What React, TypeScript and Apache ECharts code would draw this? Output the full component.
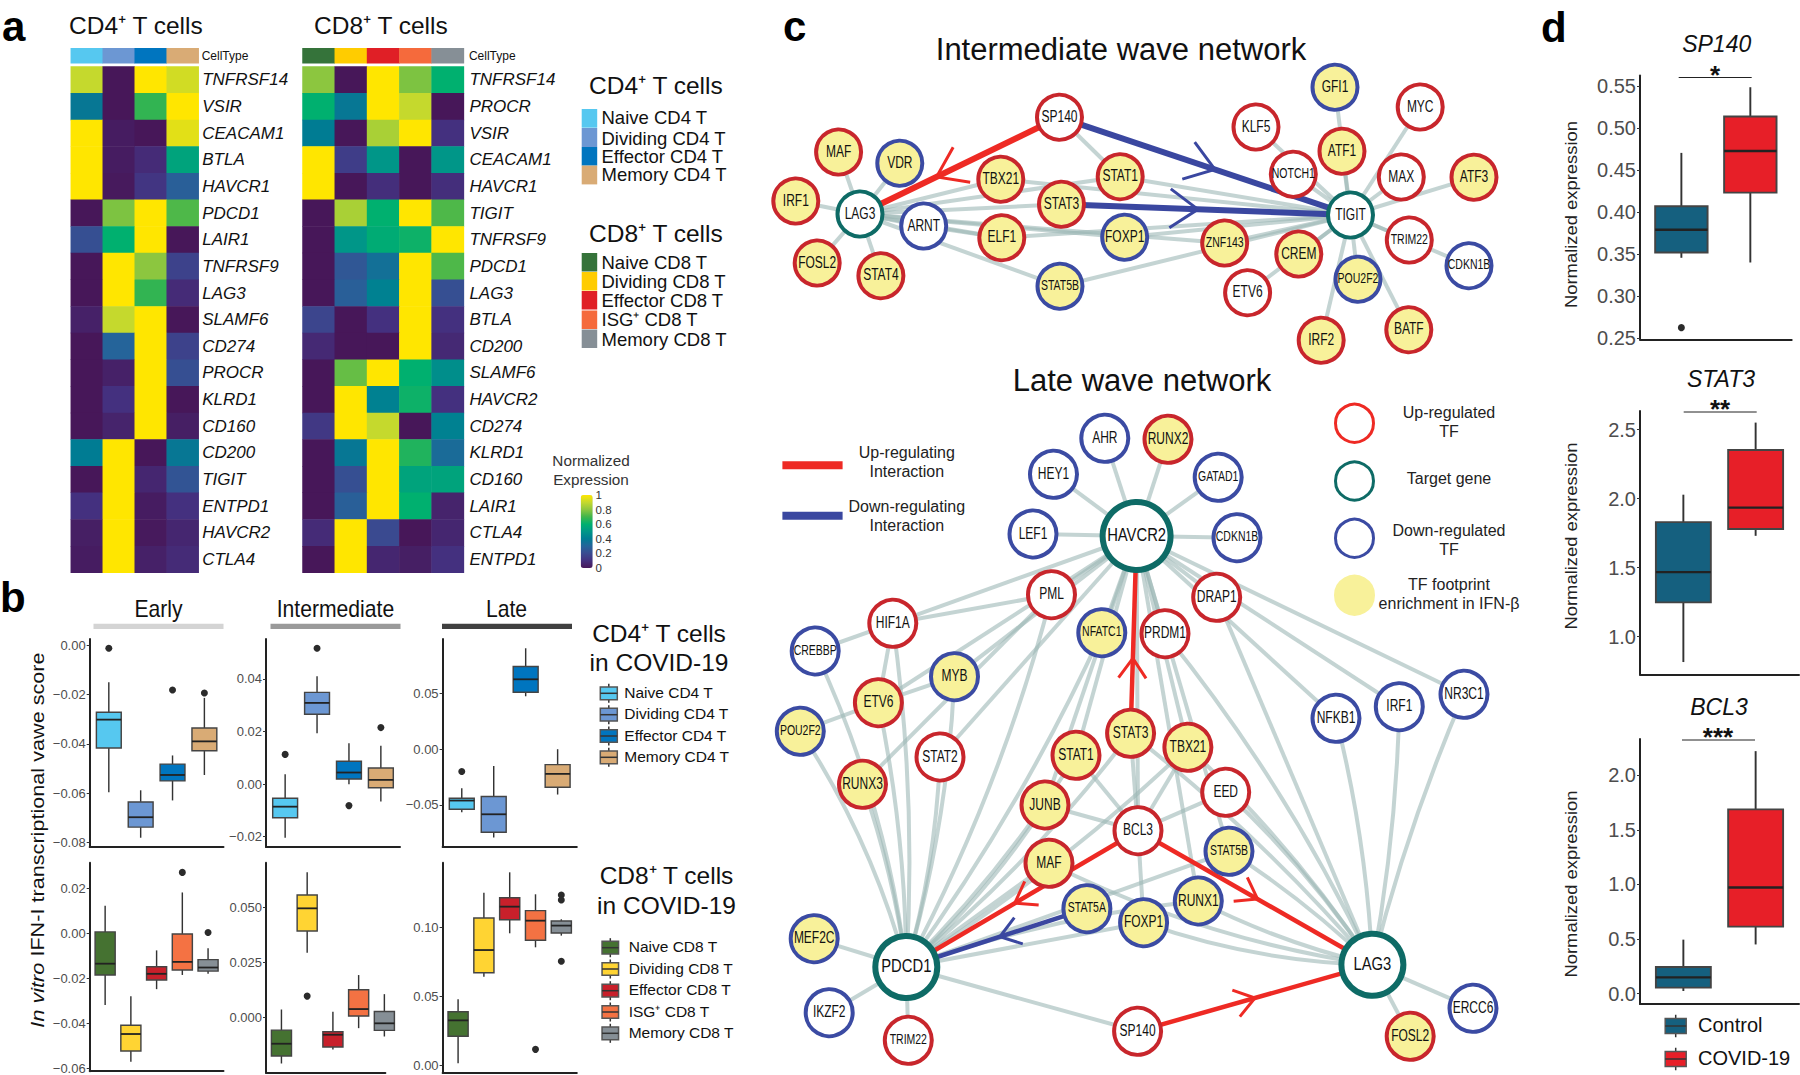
import React, { useEffect, useRef } from "react";
import * as echarts from "echarts";

const SANS = '"Liberation Sans", Arial, sans-serif';

// ---------- panel a ----------
const cd4Types = ["Naive CD4 T", "Dividing CD4 T", "Effector CD4 T", "Memory CD4 T"];
const cd8Types = ["Naive CD8 T", "Dividing CD8 T", "Effector CD8 T", "ISG⁺ CD8 T", "Memory CD8 T"];
const cd4BarColors = ["#56C8F0", "#6C97D3", "#0075BF", "#D9AB75"];
const cd8BarColors = ["#35733A", "#FFCC00", "#E01F26", "#F56A3C", "#868F96"];
const cd4Genes = ["TNFRSF14", "VSIR", "CEACAM1", "BTLA", "HAVCR1", "PDCD1", "LAIR1", "TNFRSF9", "LAG3", "SLAMF6", "CD274", "PROCR", "KLRD1", "CD160", "CD200", "TIGIT", "ENTPD1", "HAVCR2", "CTLA4"];
const cd4Matrix = [
  [0.9, 0, 1, 0.92], [0.38, 0, 0.68, 1], [1, 0.02, 0, 0.95], [1, 0.02, 0.08, 0.55], [1, 0.01, 0.12, 0.28],
  [0, 0.78, 1, 0.72], [0.22, 0.6, 1, 0], [0, 1, 0.8, 0.17], [0, 1, 0.68, 0.08], [0.04, 0.9, 1, 0],
  [0, 0.3, 1, 0.17], [0, 0.04, 1, 0.22], [0, 0.1, 1, 0], [0, 0.05, 1, 0.03], [0.4, 1, 0, 0.38],
  [0, 1, 0.06, 0.24], [0.1, 1, 0.02, 0.1], [0.03, 1, 0.01, 0.06], [0.02, 1, 0.04, 0.08],
];
const cd8Genes = ["TNFRSF14", "PROCR", "VSIR", "CEACAM1", "HAVCR1", "TIGIT", "TNFRSF9", "PDCD1", "LAG3", "BTLA", "CD200", "SLAMF6", "HAVCR2", "CD274", "KLRD1", "CD160", "LAIR1", "CTLA4", "ENTPD1"];
const cd8Matrix = [
  [0.8, 0, 1, 0.78, 0.6], [0.6, 0.38, 1, 0.9, 0], [0.4, 0, 0.85, 1, 0.1], [1, 0.15, 0.5, 0, 0.5], [1, 0, 0.09, 0, 0.09],
  [0, 0.85, 0.6, 1, 0.72], [0, 0.5, 0.58, 0.62, 1], [0, 0.25, 0.35, 1, 0.72], [0, 0.28, 0.42, 1, 0.22], [0.18, 0, 0.1, 1, 0.1],
  [0.07, 0, 0, 1, 0.07], [0, 0.75, 1, 0.6, 0.47], [0, 1, 0.42, 0.62, 0.1], [0.13, 1, 0.9, 0, 0.42], [0, 0.38, 1, 0.65, 0.33],
  [0, 0.22, 1, 0.55, 0.55], [0, 0.28, 1, 0.6, 0.05], [0.08, 1, 0.2, 0, 0.06], [0, 1, 0.06, 0.03, 0.1],
];
const heatRamp = ["#471759", "#44307F", "#3A4A90", "#25649A", "#007C93", "#009688", "#00B06F", "#3FB54B", "#8CC63F", "#C5D92D", "#FFE600"];

// ---------- panel b: [low whisker, q1, median, q3, high whisker] ----------
const cd4BoxColors = ["#56C8F0", "#6C97D3", "#0075BF", "#D9AB75"];
const cd8BoxColors = ["#457231", "#FFD433", "#C8202B", "#F47243", "#868F96"];
const earlyCD4 = [[-0.0596, -0.0417, -0.0302, -0.02725, -0.0151], [-0.078, -0.0737, -0.0697, -0.0635, -0.0588], [-0.0629, -0.055, -0.0526, -0.0482, -0.0447], [-0.0526, -0.0428, -0.039, -0.0336, -0.0214]];
const earlyCD4Out = [[1, -0.0013], [3, -0.0182], [4, -0.0194]];
const interCD4 = [[-0.0204, -0.0128, -0.0086, -0.0054, 0.0037], [0.0193, 0.0266, 0.0309, 0.0349, 0.041], [-0.0001, 0.0019, 0.0044, 0.0087, 0.0155], [-0.0066, -0.0014, 0.0016, 0.0061, 0.0146]];
const interCD4Out = [[1, 0.0113], [2, 0.0517], [3, -0.0082], [4, 0.0215]];
const lateCD4 = [[-0.0566, -0.0539, -0.0461, -0.044, -0.0351], [-0.0793, -0.0745, -0.0584, -0.0425, -0.0151], [0.0473, 0.0509, 0.0625, 0.0739, 0.0903], [-0.0407, -0.0342, -0.0222, -0.0139, -0.0001]];
const lateCD4Out = [[1, -0.0201]];
const earlyCD8 = [[-0.0318, -0.0185, -0.0135, 0.0006, 0.0122], [-0.057, -0.0522, -0.0447, -0.0408, -0.028], [-0.0248, -0.0207, -0.018, -0.0149, -0.0076], [-0.0185, -0.0163, -0.0127, -0.0003, 0.0181], [-0.018, -0.0168, -0.0152, -0.0117, -0.0067]];
const earlyCD8Out = [[4, 0.027], [5, 0.0003]];
const interCD8 = [[-0.021, -0.0176, -0.012, -0.0058, 0.0036], [0.0295, 0.0394, 0.0497, 0.0558, 0.0661], [-0.0146, -0.0135, -0.0079, -0.0065, 0.0026], [-0.0049, 0.0006, 0.0038, 0.0126, 0.0193], [-0.0087, -0.0059, -0.0027, 0.0027, 0.0106]];
const interCD8Out = [[2, 0.0097]];
const lateCD8 = [[0.0012, 0.0209, 0.0325, 0.0388, 0.0478], [0.0643, 0.0672, 0.0837, 0.107, 0.1255], [0.0959, 0.1058, 0.1153, 0.1218, 0.1403], [0.0857, 0.0908, 0.1051, 0.1124, 0.1243], [0.0942, 0.0961, 0.1015, 0.1049, 0.1061]];
const lateCD8Out = [[4, 0.0114], [5, 0.1238], [5, 0.1201], [5, 0.0755]];

// ---------- panel d ----------
const groupColors = ["#15607F", "#E71F28"];
const groupNames = ["Control", "COVID-19"];
const sp140Box = [[0.3456, 0.352, 0.379, 0.407, 0.4707], [0.34, 0.4233, 0.473, 0.514, 0.549]];
const sp140Out = [[1, 0.2623]];
const stat3Box = [[0.816, 1.248, 1.467, 1.829, 2.028], [1.73, 1.78, 1.934, 2.351, 2.55]];
const bcl3Box = [[0.025, 0.056, 0.15, 0.2445, 0.495], [0.451, 0.614, 0.972, 1.687, 2.22]];

// ---------- panel c ----------
type Ring = "up" | "down" | "target";
const intermediateNodes: [string, Ring, boolean][] = [
  ["SP140", "up", false], ["MAF", "up", true], ["VDR", "down", true], ["IRF1", "up", true], ["LAG3", "target", false],
  ["TBX21", "up", true], ["STAT1", "up", true], ["STAT3", "up", true], ["ARNT", "down", false], ["ELF1", "up", true],
  ["FOXP1", "down", true], ["FOSL2", "up", true], ["STAT4", "up", true], ["STAT5B", "down", true], ["ZNF143", "up", true],
  ["CREM", "up", true], ["ETV6", "up", false], ["KLF5", "up", false], ["NOTCH1", "up", false], ["ATF1", "up", true],
  ["GFI1", "down", true], ["MYC", "up", false], ["MAX", "up", false], ["ATF3", "up", true], ["TIGIT", "target", false],
  ["TRIM22", "up", false], ["CDKN1B", "down", false], ["POU2F2", "down", true], ["IRF2", "up", true], ["BATF", "up", true],
];
const intermediateLayout: Record<string, [number, number]> = {
  SP140: [1059.5, 117.3], MAF: [838.6, 152], VDR: [899.8, 163.3], IRF1: [795.8, 201], LAG3: [860, 214], TBX21: [1000.8, 179.3],
  STAT1: [1120.2, 176.7], STAT3: [1061.5, 204.3], ARNT: [923.7, 226], ELF1: [1001.8, 237.7], FOXP1: [1124.7, 237.3], FOSL2: [817.2, 263],
  STAT4: [880.9, 275.7], STAT5B: [1060, 286.3], ZNF143: [1224.7, 243], CREM: [1298.8, 254], ETV6: [1247.6, 292.7], KLF5: [1256, 127],
  NOTCH1: [1293.3, 174.3], ATF1: [1342, 151.3], GFI1: [1335, 87.3], MYC: [1420.2, 107], MAX: [1401.3, 177], ATF3: [1474, 177.3],
  TIGIT: [1350.5, 215], TRIM22: [1409.3, 240], CDKN1B: [1469, 265.7], POU2F2: [1358, 279.3], IRF2: [1321.2, 340.3], BATF: [1408.8, 329.7],
};
const intermediateEdges: [string, string][] = [
  ["LAG3", "MAF"], ["LAG3", "VDR"], ["LAG3", "IRF1"], ["LAG3", "FOSL2"], ["LAG3", "STAT4"], ["LAG3", "TBX21"], ["LAG3", "STAT1"],
  ["LAG3", "STAT3"], ["LAG3", "ARNT"], ["LAG3", "ELF1"], ["LAG3", "FOXP1"], ["LAG3", "ZNF143"], ["LAG3", "STAT5B"],
  ["SP140", "STAT1"], ["TIGIT", "TBX21"], ["TIGIT", "STAT1"], ["TIGIT", "ELF1"], ["TIGIT", "FOXP1"], ["TIGIT", "ZNF143"], ["TIGIT", "CREM"],
  ["TIGIT", "NOTCH1"], ["TIGIT", "ATF1"], ["TIGIT", "MAX"], ["TIGIT", "ATF3"], ["TIGIT", "TRIM22"], ["TIGIT", "POU2F2"], ["TIGIT", "IRF2"],
  ["TIGIT", "BATF"], ["TIGIT", "STAT5B"], ["TIGIT", "ETV6"], ["TIGIT", "KLF5"], ["TIGIT", "GFI1"], ["TIGIT", "MYC"], ["TIGIT", "CDKN1B"], ["ARNT", "ELF1"],
];
const intermediateUp: [string, string, number][] = [["SP140", "LAG3", 0.616]];
const intermediateDown: [string, string, number][] = [["SP140", "TIGIT", 0.534], ["STAT3", "TIGIT", 0.472]];

const lateNodes: [string, Ring, boolean][] = [
  ["HAVCR2", "target", false], ["AHR", "down", false], ["RUNX2", "up", true], ["HEY1", "down", false], ["GATAD1", "down", false],
  ["LEF1", "down", false], ["CDKN1B", "down", false], ["PML", "up", false], ["DRAP1", "up", false], ["NFATC1", "down", true],
  ["PRDM1", "up", false], ["HIF1A", "up", false], ["CREBBP", "down", false], ["MYB", "down", true], ["ETV6", "up", true],
  ["NR3C1", "down", false], ["IRF1", "down", false], ["NFKB1", "down", false], ["POU2F2", "down", true], ["STAT2", "up", false],
  ["RUNX3", "up", true], ["STAT3", "up", true], ["TBX21", "up", true], ["STAT1", "up", true], ["EED", "up", false],
  ["JUNB", "up", true], ["BCL3", "up", false], ["MAF", "up", true], ["STAT5B", "down", true], ["STAT5A", "down", true],
  ["FOXP1", "down", true], ["RUNX1", "down", true], ["MEF2C", "down", true], ["PDCD1", "target", false], ["IKZF2", "down", false],
  ["TRIM22", "up", false], ["SP140", "up", false], ["LAG3", "target", false], ["FOSL2", "up", true], ["ERCC6", "down", false],
];
const lateLayout: Record<string, [number, number]> = {
  HAVCR2: [1136.6, 536], AHR: [1104.8, 438.3], RUNX2: [1168, 439.3], HEY1: [1053.5, 474.3], GATAD1: [1218.2, 477.3], LEF1: [1033, 534],
  CDKN1B: [1237, 537.7], PML: [1051.5, 594.7], DRAP1: [1216.7, 597.3], NFATC1: [1101.8, 632.7], PRDM1: [1165, 633.7], HIF1A: [892.8, 623.3],
  CREBBP: [815.2, 651], MYB: [954.5, 676.7], ETV6: [878.4, 702.7], NR3C1: [1464, 694.3], IRF1: [1399.3, 706.7], NFKB1: [1336, 718.3],
  POU2F2: [800.3, 731.3], STAT2: [940, 757], RUNX3: [862.5, 784.3], STAT3: [1130.6, 733.3], TBX21: [1187.9, 747.3], STAT1: [1076, 755.3],
  EED: [1225.7, 792.3], JUNB: [1045, 805], BCL3: [1138, 830.7], MAF: [1049, 863.3], STAT5B: [1229, 851.3], STAT5A: [1086.9, 908.7],
  FOXP1: [1143.6, 922.7], RUNX1: [1198.3, 901], MEF2C: [814.2, 938.7], PDCD1: [906.3, 967], IKZF2: [829.2, 1012.7], TRIM22: [908.3, 1040.3],
  SP140: [1137.6, 1031.3], LAG3: [1372.4, 964.7], FOSL2: [1410.2, 1036.3], ERCC6: [1473, 1008.3],
};
const lateEdges: [string, string][] = [
  ["HAVCR2", "AHR"], ["HAVCR2", "RUNX2"], ["HAVCR2", "HEY1"], ["HAVCR2", "GATAD1"], ["HAVCR2", "LEF1"], ["HAVCR2", "CDKN1B"],
  ["HAVCR2", "PML"], ["HAVCR2", "DRAP1"], ["HAVCR2", "NFATC1"], ["HAVCR2", "PRDM1"], ["HAVCR2", "HIF1A"], ["HAVCR2", "MYB"],
  ["HAVCR2", "ETV6"], ["HAVCR2", "STAT2"], ["HAVCR2", "STAT1"], ["HAVCR2", "TBX21"], ["HAVCR2", "BCL3"], ["HAVCR2", "STAT5B"],
  ["HAVCR2", "JUNB"], ["HAVCR2", "RUNX1"], ["HAVCR2", "NR3C1"], ["HAVCR2", "IRF1"], ["HAVCR2", "NFKB1"],
  ["PML", "HIF1A"], ["HIF1A", "CREBBP"], ["HIF1A", "ETV6"], ["ETV6", "POU2F2"], ["ETV6", "MYB"], ["PML", "RUNX3"],
  ["LAG3", "DRAP1"], ["BCL3", "JUNB"], ["BCL3", "EED"], ["BCL3", "TBX21"], ["BCL3", "STAT1"], ["BCL3", "FOXP1"], ["BCL3", "STAT3"],
  ["PDCD1", "MEF2C"], ["PDCD1", "IKZF2"], ["PDCD1", "TRIM22"], ["PDCD1", "SP140"], ["PDCD1", "MAF"], ["PDCD1", "FOXP1"], ["PDCD1", "STAT5B"],
  ["LAG3", "FOSL2"], ["LAG3", "ERCC6"],
];
const lateCurved: [string, string, number][] = [
  ["PDCD1", "RUNX3", -0.05], ["PDCD1", "ETV6", -0.05], ["PDCD1", "POU2F2", -0.08], ["PDCD1", "CREBBP", -0.08], ["PDCD1", "STAT2", -0.06],
  ["PDCD1", "MYB", -0.06], ["PDCD1", "PML", -0.06], ["PDCD1", "HIF1A", -0.05], ["PDCD1", "STAT1", -0.06], ["PDCD1", "STAT3", -0.06],
  ["PDCD1", "JUNB", -0.07], ["PDCD1", "TBX21", -0.05], ["PDCD1", "NFATC1", -0.05], ["PDCD1", "RUNX1", 0.06],
  ["LAG3", "NFKB1", -0.05], ["LAG3", "IRF1", -0.04], ["LAG3", "NR3C1", 0.04], ["LAG3", "EED", -0.06], ["LAG3", "TBX21", -0.06],
  ["LAG3", "MAF", 0.08], ["LAG3", "PRDM1", -0.06], ["LAG3", "STAT3", -0.05], ["LAG3", "FOXP1", 0.08], ["LAG3", "RUNX1", 0.06], ["LAG3", "STAT5B", -0.05],
];
const lateUp: [string, string, number][] = [["STAT3", "HAVCR2", 0.38], ["BCL3", "PDCD1", 0.532], ["BCL3", "LAG3", 0.51], ["SP140", "LAG3", 0.5]];
const lateDown: [string, string, number][] = [["STAT5A", "PDCD1", 0.482]];

const RED = "#EE2A24";
const BLUE = "#3A47A0";
const TEAL = "#0E6B66";
const RINGS: Record<Ring, string> = { up: "#C8262C", down: "#3B4BA3", target: TEAL };
const FOOTPRINT = "#F8F19A";

function text(x: number, y: number, str: string, size: number, o: any = {}) {
  const align = o.align || "left";
  const rotated = !!o.rotation;
  return {
    type: "text", x, y: rotated ? y : y - 0.8, rotation: o.rotation || 0, scaleX: o.sx || 1, silent: true, z: 50,
    style: {
      text: str, fontSize: size, fontFamily: SANS, fontStyle: o.italic ? "italic" : "normal",
      fontWeight: o.bold ? "bold" : "normal", fill: o.color || "#111", align, textAlign: align,
      verticalAlign: "middle", textVerticalAlign: "middle", rich: o.rich,
    },
  };
}
const rect = (x: number, y: number, w: number, h: number, fill: string, extra: any = {}) => ({
  type: "rect", shape: { x, y, width: w, height: h }, silent: true, z: 50, style: { fill, ...extra },
});
const line = (x1: number, y1: number, x2: number, y2: number, stroke: string, lineWidth: number) => ({
  type: "line", shape: { x1, y1, x2, y2 }, silent: true, z: 50, style: { stroke, lineWidth },
});
function boxKey(cx: number, cy: number, w: number, h: number, fill: string) {
  return [
    line(cx, cy - h * 0.75, cx, cy + h * 0.75, "#333", 1.5),
    rect(cx - w / 2, cy - h / 2, w, h, fill, { stroke: "#555", lineWidth: 1.5 }),
    line(cx - w / 2, cy, cx + w / 2, cy, "#333", 1.5),
  ];
}

export default function App() {
  const ref = useRef<HTMLDivElement>(null);
  useEffect(() => {
    const chart = echarts.init(ref.current!, null, { renderer: "svg" });
    const grid: any[] = [];
    const xAxis: any[] = [];
    const yAxis: any[] = [];
    const series: any[] = [];
    const graphic: any[] = [];

    const pushGrid = (l: number, t: number, w: number, h: number) => {
      grid.push({ left: l, top: t, width: w, height: h, containLabel: false });
      return grid.length - 1;
    };

    // heat maps
    const heat = (l: number, w: number, genes: string[], cols: string[], m: number[][], barColors: string[], margin: number) => {
      const g = pushGrid(l, 66.6, w, 506.2);
      xAxis.push({ gridIndex: g, type: "category", data: cols, show: false });
      yAxis.push({
        gridIndex: g, type: "category", data: genes, inverse: true, position: "right",
        axisLine: { show: false }, axisTick: { show: false },
        axisLabel: { interval: 0, fontSize: 17, fontStyle: "italic", fontFamily: SANS, color: "#111", margin, padding: [0, 0, 2, 0] },
      });
      const data: number[][] = [];
      m.forEach((row, r) => row.forEach((v, c) => data.push([c, r, v])));
      series.push({ type: "heatmap", xAxisIndex: xAxis.length - 1, yAxisIndex: yAxis.length - 1, data, silent: true });
      return { g, barColors, cols };
    };
    const h4 = heat(70.8, 127.9, cd4Genes, cd4Types, cd4Matrix, cd4BarColors, 3.5);
    const h8 = heat(302.5, 161.4, cd8Genes, cd8Types, cd8Matrix, cd8BarColors, 5.5);
    [h4, h8].forEach((h, i) => {
      const g = pushGrid(i === 0 ? 70.8 : 302.5, 48.2, i === 0 ? 127.9 : 161.4, 15);
      xAxis.push({ gridIndex: g, type: "category", data: h.cols, show: false });
      yAxis.push({
        gridIndex: g, type: "category", data: ["CellType"], position: "right",
        axisLine: { show: false }, axisTick: { show: false },
        axisLabel: { fontSize: 12, fontFamily: SANS, color: "#111", margin: i === 0 ? 3 : 5 },
      });
      series.push({
        type: "heatmap", xAxisIndex: xAxis.length - 1, yAxisIndex: yAxis.length - 1, silent: true,
        data: h.cols.map((_, c) => [c, 0, c]),
      });
    });

    // colour-bar axis
    const cb = pushGrid(592.6, 495, 1, 73);
    xAxis.push({ gridIndex: cb, type: "value", show: false, min: 0, max: 1 });
    yAxis.push({
      gridIndex: cb, type: "value", min: 0, max: 1, interval: 0.2, position: "right",
      axisLine: { show: false }, splitLine: { show: false },
      axisTick: { show: true, inside: true, length: 3, lineStyle: { color: "#fff", width: 1 } },
      axisLabel: { fontSize: 11.5, fontFamily: SANS, color: "#333", margin: 2 },
    });

    // box plots drawn through the axes' scales
    const boxSeries = (xi: number, yi: number, rows: number[][], colors: string[], out: number[][], wUnits: number, mw = 1.8) => {
      series.push({
        type: "custom", xAxisIndex: xi, yAxisIndex: yi, silent: true, clip: false,
        encode: { x: 0, y: [1, 2, 3, 4, 5] },
        data: rows.map((r, i) => [i + 1, ...r]),
        renderItem: (params: any, api: any) => {
          const x = api.value(0);
          const [px] = api.coord([x, 0]);
          const y = (v: number) => api.coord([x, v])[1];
          const low = y(api.value(1)), q1 = y(api.value(2)), med = y(api.value(3)), q3 = y(api.value(4)), up = y(api.value(5));
          const w = api.size([wUnits, 0])[0];
          const color = colors[params.dataIndex];
          const stroke = { stroke: "#333", lineWidth: mw * 0.8 };
          return {
            type: "group",
            children: [
              { type: "line", shape: { x1: px, y1: up, x2: px, y2: q3 }, style: stroke },
              { type: "line", shape: { x1: px, y1: q1, x2: px, y2: low }, style: stroke },
              { type: "rect", shape: { x: px - w / 2, y: q3, width: w, height: q1 - q3 }, style: { fill: color, stroke: "#444", lineWidth: mw * 0.8 } },
              { type: "line", shape: { x1: px - w / 2, y1: med, x2: px + w / 2, y2: med }, style: { stroke: "#222", lineWidth: mw } },
            ],
          };
        },
      });
      if (out.length) {
        series.push({
          type: "scatter", xAxisIndex: xi, yAxisIndex: yi, silent: true, clip: false,
          data: out, symbolSize: 7, itemStyle: { color: "#2b2b2b", opacity: 1 },
        });
      }
    };
    const panelAxes = (
      l: number, t: number, r: number, b: number, xMax: number, yMin: number, yMax: number,
      ticks: number[], dec: number, fs: number,
    ) => {
      const g = pushGrid(l, t, r - l, b - t);
      xAxis.push({
        gridIndex: g, type: "value", min: 0.4, max: xMax, position: "bottom",
        axisLine: { show: true, onZero: false, lineStyle: { color: "#222", width: 2 } },
        axisTick: { show: false }, axisLabel: { show: false }, splitLine: { show: false },
      });
      yAxis.push({
        gridIndex: g, type: "value", min: yMin, max: yMax, position: "left",
        axisLine: { show: true, onZero: false, lineStyle: { color: "#222", width: 2 } },
        axisTick: { show: true, length: 3, customValues: ticks, lineStyle: { color: "#333" } },
        axisLabel: {
          show: true, customValues: ticks, fontSize: fs, fontFamily: SANS, color: "#4d4d4d", margin: 4,
          formatter: (v: number) => (v < 0 ? "\u2212" : "") + Math.abs(v).toFixed(dec),
        },
        splitLine: { show: false },
      });
      return [xAxis.length - 1, yAxis.length - 1];
    };
    const FS = 13;
    const panels: any[] = [
      [89.7, 639, 223.5, 847, 4.6, -0.08175, 0.00243, [-0.08, -0.06, -0.04, -0.02, 0], 2, earlyCD4, cd4BoxColors, earlyCD4Out],
      [266, 639, 400, 847, 4.6, -0.02395, 0.05522, [-0.02, 0, 0.02, 0.04], 2, interCD4, cd4BoxColors, interCD4Out],
      [442.6, 639, 576.8, 847, 4.6, -0.0877, 0.0986, [-0.05, 0, 0.05], 2, lateCD4, cd4BoxColors, lateCD4Out],
      [89.7, 862.7, 223.5, 1072.7, 5.6, -0.0612, 0.0313, [-0.06, -0.04, -0.02, 0, 0.02], 2, earlyCD8, cd8BoxColors, earlyCD8Out],
      [266, 862.7, 385.4, 1072.7, 5.04, -0.0252, 0.0705, [0, 0.025, 0.05], 3, interCD8, cd8BoxColors, interCD8Out],
      [442.6, 862.7, 576.8, 1072.7, 5.6, -0.0056, 0.1473, [0, 0.05, 0.1], 2, lateCD8, cd8BoxColors, lateCD8Out],
    ];
    panels.forEach((p) => {
      const [xi, yi] = panelAxes(p[0], p[1], p[2], p[3], p[4], p[5], p[6], p[7], p[8], FS);
      boxSeries(xi, yi, p[9], p[10], p[11], 0.78);
    });
    const dPanels: any[] = [
      [1640, 75.4, 1791.7, 339.3, 0.2484, 0.5631, [0.25, 0.3, 0.35, 0.4, 0.45, 0.5, 0.55], 2, sp140Box, sp140Out],
      [1640, 411, 1799, 674.4, 0.7265, 2.634, [1, 1.5, 2, 2.5], 1, stat3Box, []],
      [1640, 738.9, 1799, 1004, -0.094, 2.332, [0, 0.5, 1, 1.5, 2], 1, bcl3Box, []],
    ];
    dPanels.forEach((p) => {
      const [xi, yi] = panelAxes(p[0], p[1], p[2], p[3], 2.6, p[4], p[5], p[6], p[7], 20);
      boxSeries(xi, yi, p[8], groupColors, p[9], 0.76, 2.4);
    });

    // networks on a pixel-scaled hidden cartesian
    const net = pushGrid(0, 0, 1800, 1075);
    xAxis.push({ gridIndex: net, type: "value", min: 0, max: 1800, show: false });
    yAxis.push({ gridIndex: net, type: "value", min: 0, max: 1075, inverse: true, show: false });
    const nx = xAxis.length - 1, ny = yAxis.length - 1;
    const graph = (
      nodes: [string, Ring, boolean][], layout: Record<string, [number, number]>, edges: [string, string][],
      curved: [string, string, number][], up: [string, string, number][], down: [string, string, number][],
      dia: number, hubs: Record<string, number>, hiW: number, chevLen: number,
    ) => {
      const light = { color: "#9DB7B5", opacity: 0.6, width: 4 };
      const isHub = (name: string, ring: Ring) => ring === "target" && hubs[name] !== undefined;
      series.push({
        type: "graph", coordinateSystem: "cartesian2d", xAxisIndex: nx, yAxisIndex: ny, layout: "none", silent: true, z: 5,
        lineStyle: { opacity: 1 },
        label: { show: false },
        data: nodes.map(([name, ring, fp]) => ({
          name, value: layout[name],
          symbol: "circle",
          symbolSize: isHub(name, ring) ? hubs[name] : dia,
          itemStyle: { color: fp ? FOOTPRINT : "#fff", borderColor: RINGS[ring], borderWidth: isHub(name, ring) ? 6 : 4 },
        })),
        links: [
          ...edges.map(([source, target]) => ({ source, target, lineStyle: { ...light } })),
          ...curved.map(([source, target, c]) => ({ source, target, lineStyle: { ...light, curveness: c } })),
          ...up.map(([source, target]) => ({ source, target, lineStyle: { color: RED, opacity: 1, width: hiW } })),
          ...down.map(([source, target]) => ({ source, target, lineStyle: { color: BLUE, opacity: 1, width: hiW } })),
        ],
      });
      // condensed node names
      series.push({
        type: "custom", xAxisIndex: nx, yAxisIndex: ny, silent: true, z: 7, clip: false,
        encode: { x: 0, y: 1 },
        data: nodes.map(([name]) => layout[name]),
        renderItem: (params: any, api: any) => {
          const p = api.coord([api.value(0), api.value(1)]);
          const [name, ring] = nodes[params.dataIndex];
          const hub = isHub(name, ring);
          return {
            type: "text", x: p[0], y: p[1] - 1, scaleX: hub ? 0.8 : 0.75,
            style: {
              text: name, fontFamily: SANS, fontSize: hub ? 18.5 : name.length >= 6 ? 14 : 16, fill: "#111",
              align: "center", textAlign: "center", verticalAlign: "middle", textVerticalAlign: "middle",
            },
          };
        },
      });
      const chev = (list: [string, string, number][], color: string) => {
        series.push({
          type: "custom", xAxisIndex: nx, yAxisIndex: ny, silent: true, z: 6, clip: false,
          encode: { x: [0, 2], y: [1, 3] },
          data: list.map(([s, e, t]) => [...layout[s], ...layout[e], t]),
          renderItem: (_: any, api: any) => {
            const a = api.coord([api.value(0), api.value(1)]);
            const b = api.coord([api.value(2), api.value(3)]);
            const t = api.value(4);
            const tip = [a[0] + (b[0] - a[0]) * t, a[1] + (b[1] - a[1]) * t];
            const ang = Math.atan2(a[1] - b[1], a[0] - b[0]);
            const sp = (35 * Math.PI) / 180;
            const p = (d: number) => [tip[0] + chevLen * Math.cos(ang + d), tip[1] + chevLen * Math.sin(ang + d)];
            return {
              type: "polyline",
              shape: { points: [p(sp), tip, p(-sp)] },
              style: { stroke: color, lineWidth: 3, fill: null },
            };
          },
        });
      };
      chev(up, RED);
      chev(down, BLUE);
    };
    graph(intermediateNodes, intermediateLayout, intermediateEdges, [], intermediateUp, intermediateDown, 45, {}, 6, 34);
    graph(lateNodes, lateLayout, lateEdges, lateCurved, lateUp, lateDown, 47, { HAVCR2: 68, PDCD1: 62, LAG3: 62 }, 4.5, 24);

    // ---------- static texts & legends ----------
    [["a", 2, 27], ["b", 0, 598], ["c", 783, 27], ["d", 1541, 28]].forEach(([s, x, y]: any) =>
      graphic.push(text(x, y, s, 42, { bold: true, color: "#000" })));
    graphic.push(text(69, 26, "CD4⁺ T cells", 24.5));
    graphic.push(text(314, 26, "CD8⁺ T cells", 24.5));

    // panel a legends
    graphic.push(text(589, 86.6, "CD4⁺ T cells", 24.5));
    [[109, 18.7, 118], [128, 19, 139], [147, 18.6, 157], [165.6, 18.8, 175]].forEach(([y, h, ty], i) => {
      graphic.push(rect(581.7, y, 15.5, h, cd4BarColors[i]));
      graphic.push(text(601.5, ty, cd4Types[i], 18.5));
    });
    graphic.push(text(589, 234, "CD8⁺ T cells", 24.5));
    [[253, 18.5, 263.5], [272, 18.5, 282], [291, 18.5, 301], [310.5, 18.5, 320.7], [329.5, 18.5, 340]].forEach(([y, h, ty], i) => {
      graphic.push(rect(581.7, y, 15.5, h, cd8BarColors[i]));
      graphic.push(text(601.5, ty, cd8Types[i], 18.5));
    });
    graphic.push(text(591, 461, "Normalized", 15.3, { align: "center", color: "#333" }));
    graphic.push(text(591, 480, "Expression", 15.3, { align: "center", color: "#333" }));

    // panel b headers, labels, legends
    [["Early", 158.5, 93.5, "#d4d4d4"], ["Intermediate", 335.4, 270.5, "#9a9a9a"], ["Late", 506.5, 442, "#404040"]].forEach(([s, cx, x, c]: any) => {
      graphic.push(text(cx, 610, s, 23, { align: "center", sx: 0.92 }));
      graphic.push(rect(x, 623.7, 130, 5.3, c));
    });
    graphic.push(text(38, 840, "{i|In vitro} IFN-I transcriptional vawe score", 18.5, {
      align: "center", rotation: Math.PI / 2, sx: 1.17,
      rich: { i: { fontStyle: "italic", fontSize: 18.5, fontFamily: SANS, fill: "#111", color: "#111" } },
    }));
    graphic.push(text(659, 634, "CD4⁺ T cells", 24.5, { align: "center" }));
    graphic.push(text(659, 663, "in COVID-19", 24.5, { align: "center" }));
    [693.3, 714.7, 736, 757.3].forEach((y, i) => {
      graphic.push(...boxKey(608.8, y, 17, 12.7, cd4BoxColors[i]));
      graphic.push(text(624.3, y, cd4Types[i], 15.5));
    });
    graphic.push(text(666.5, 876.7, "CD8⁺ T cells", 24.5, { align: "center" }));
    graphic.push(text(666.5, 906.7, "in COVID-19", 24.5, { align: "center" }));
    [947.7, 969, 990.7, 1012, 1033.3].forEach((y, i) => {
      graphic.push(...boxKey(610.3, y, 16.5, 12.7, cd8BoxColors[i]));
      graphic.push(text(628.7, y, cd8Types[i], 15.5));
    });

    // panel c
    graphic.push(text(1121, 50, "Intermediate wave network", 31, { align: "center" }));
    graphic.push(text(1142, 381.7, "Late wave network", 31, { align: "center" }));
    graphic.push(rect(782.4, 461.3, 60.2, 8, RED), rect(782.4, 511.7, 60.2, 8, BLUE));
    [["Up-regulating", 453.7], ["Interaction", 472.7], ["Down-regulating", 507.7], ["Interaction", 526.7]].forEach(([s, y]: any) =>
      graphic.push(text(906.8, y, s, 16, { align: "center", color: "#222" })));
    [[423.3, RED, "#fff"], [481, TEAL, "#fff"], [538.3, "#3B4BA3", "#fff"], [595.3, FOOTPRINT, FOOTPRINT]].forEach(([y, s, f]: any) =>
      graphic.push({ type: "circle", shape: { cx: 1354.5, cy: y, r: 19 }, silent: true, z: 50, style: { fill: f, stroke: s, lineWidth: 3 } }));
    [["Up-regulated", 413], ["TF", 432], ["Target gene", 479], ["Down-regulated", 531.3], ["TF", 550.3], ["TF footprint", 585.3], ["enrichment in IFN-β", 604.7]].forEach(([s, y]: any) =>
      graphic.push(text(1449, y, s, 16, { align: "center", color: "#222" })));

    // panel d
    [["SP140", 1716.7, 45, "*", 1678.7, 1751.7, 77.5, 1715, 76],
     ["STAT3", 1721, 380, "**", 1683.7, 1756.7, 412, 1720, 410],
     ["BCL3", 1719, 708, "***", 1682, 1755, 740, 1718, 738]].forEach(([name, cx, cy, star, x1, x2, ly, sx, sy]: any) => {
      graphic.push(text(cx, cy, name, 23, { align: "center", italic: true }));
      graphic.push(line(x1, ly, x2, ly, "#222", 1));
      graphic.push(text(sx, sy, star, 26, { align: "center", bold: true }));
    });
    [214.5, 536, 884].forEach((y) =>
      graphic.push(text(1571.7, y, "Normalized expression", 16, { align: "center", rotation: Math.PI / 2, sx: 1.15, color: "#222" })));
    [1026, 1059].forEach((y, i) => {
      graphic.push(...boxKey(1675.7, y, 21, 15, groupColors[i]));
      graphic.push(text(1698, y, groupNames[i], 20));
    });

    chart.setOption({
      animation: false,
      backgroundColor: "#fff",
      grid, xAxis, yAxis, series, graphic,
      visualMap: [
        {
          type: "continuous", min: 0, max: 1, seriesIndex: [0, 1], left: 580.7, top: 495, itemWidth: 12, itemHeight: 73,
          padding: 0, calculable: false, realtime: false, inRange: { color: heatRamp }, textStyle: { fontSize: 0 },
        },
        { type: "continuous", show: false, min: 0, max: 3, seriesIndex: 2, inRange: { color: cd4BarColors } },
        { type: "continuous", show: false, min: 0, max: 4, seriesIndex: 3, inRange: { color: cd8BarColors } },
      ],
    });
    return () => chart.dispose();
  }, []);
  return <div ref={ref} style={{ position: "absolute", left: 0, top: 0, width: 1800, height: 1075 }} />;
}
